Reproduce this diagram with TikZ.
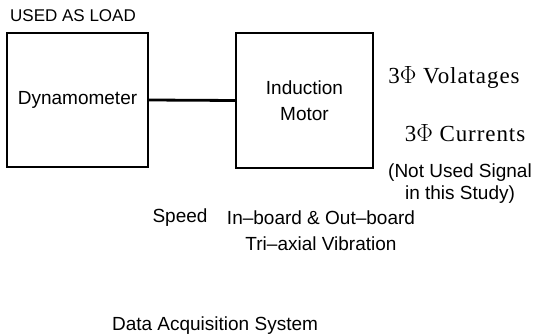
\documentclass[tikz,border=0pt]{standalone}
\usepackage{fontspec}
\setmainfont{Liberation Sans}
\newfontfamily\serifface[LetterSpace=4]{Liberation Serif}
\usepackage{tikz}
\usetikzlibrary{positioning}
\tikzset{
  unitbox/.style  = {rectangle, draw=black, line width=1.5pt, inner sep=0pt,
                     align=center, font=\fontsize{19}{26}\selectfont},
  shaft/.style    = {draw=black, line width=2.8pt},
  sigsans/.style  = {align=center, inner sep=0pt, font=\fontsize{19}{22}\selectfont},
  sigserif/.style = {align=center, inner sep=0pt, font=\serifface\fontsize{23}{24}\selectfont},
}
\begin{document}
\begin{tikzpicture}[x=1pt,y=-1pt]
  \useasboundingbox (0,0) rectangle (537,336);

  \node[unitbox, minimum width=141pt, minimum height=134pt] (dyno)  at (77.5,100)  {Dynamometer};
  \node[unitbox, minimum width=137pt, minimum height=135pt] (motor) at (304.5,100.5) {Induction\\Motor};

  \draw[shaft] (dyno.east) -- (motor.west);

  \node[sigsans, font=\fontsize{17}{20}\selectfont, anchor=west] (load) at (10,16) {USED AS LOAD};

  \node[sigserif] (volt) at (454,77)  {3$\Phi$ Volatages};
  \node[sigserif] (curr) at (465,133) {3$\Phi$ Currents};
  \node[sigsans]  (note) at (460,184) {(Not Used Signal\\in this Study)};

  \node[sigsans] (speed) at (180,218) {Speed};
  \node[sigsans, font=\fontsize{19}{26}\selectfont] (vib) at (321,231) {In--board \& Out--board\\Tri--axial Vibration};

  \node[sigsans] (daq) at (215,326) {Data Acquisition System};
\end{tikzpicture}
\end{document}
